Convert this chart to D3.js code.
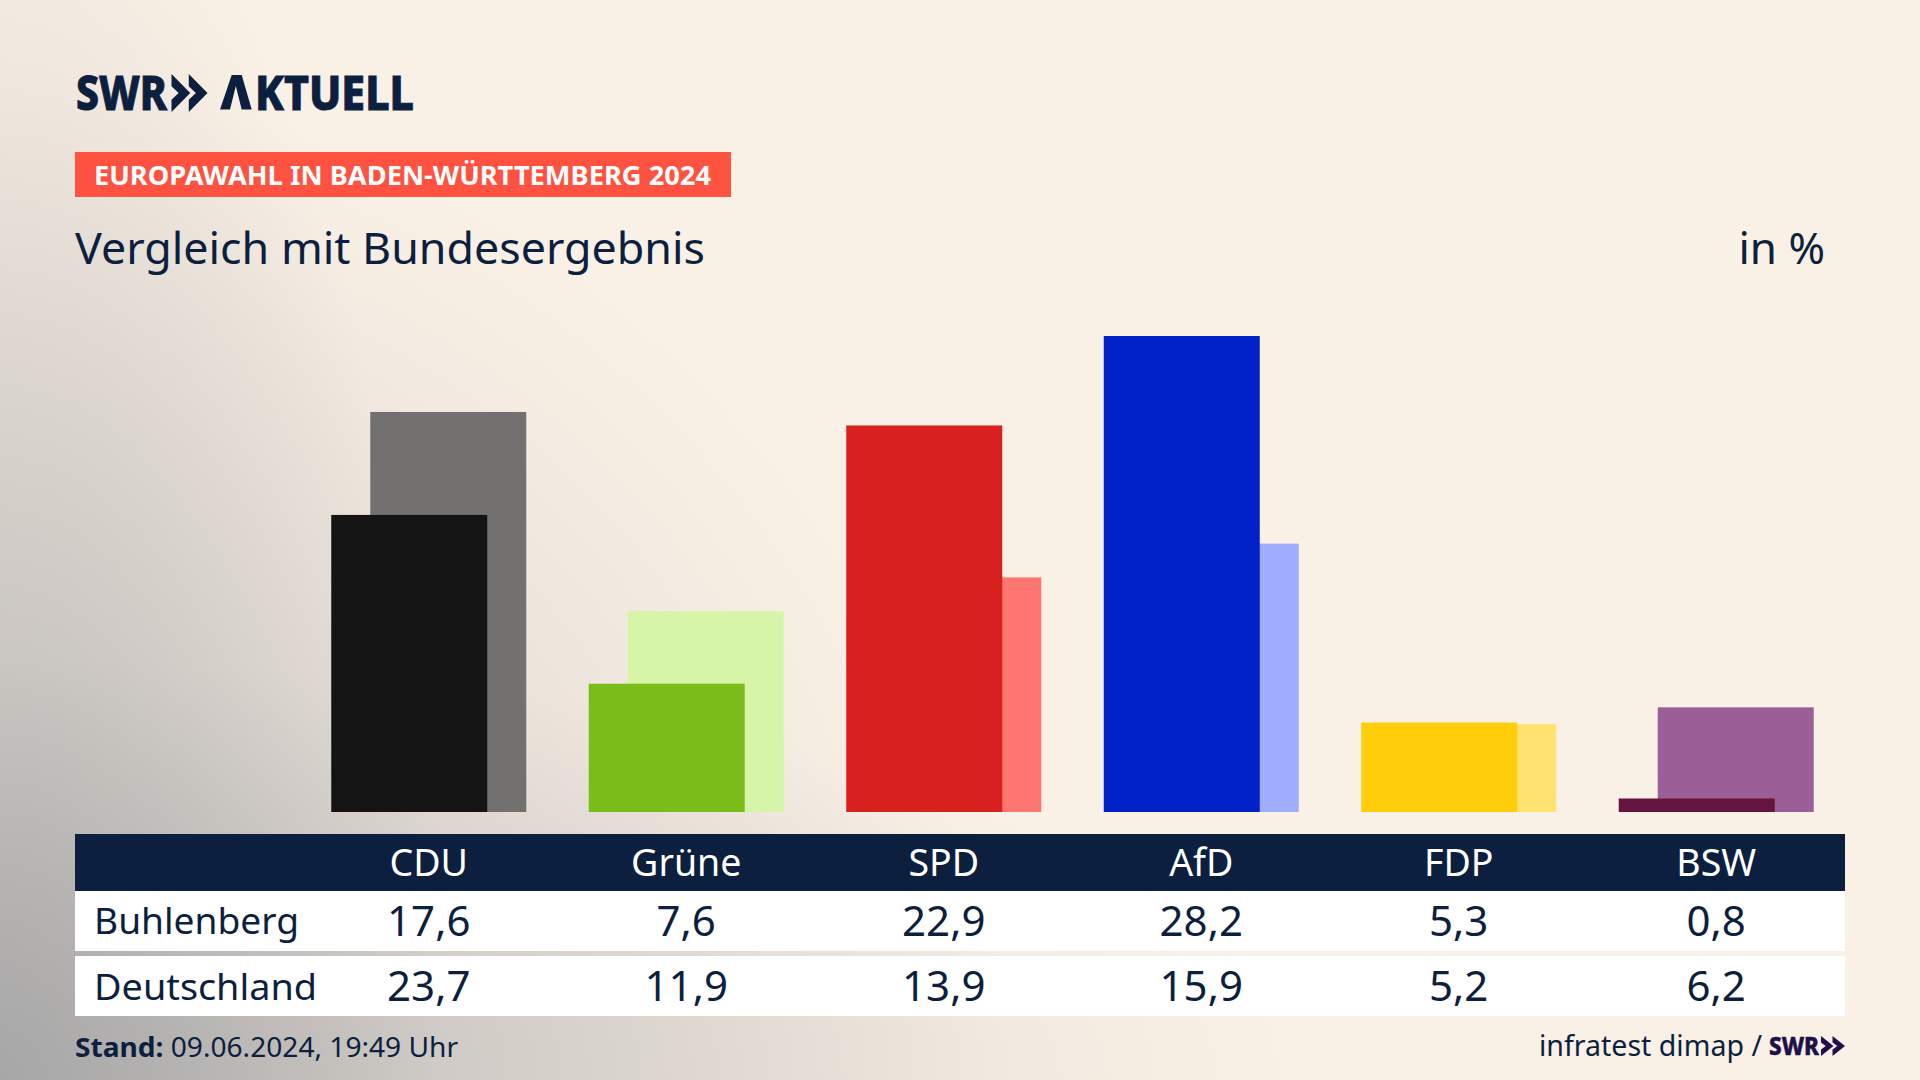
<!DOCTYPE html>
<html>
<head>
<meta charset="utf-8">
<script src="https://cdn.jsdelivr.net/npm/d3@7"></script>
<style>
  html, body { margin: 0; padding: 0; background: #faf1e6; }
  svg { display: block; }
  text { font-family: "Noto Sans", sans-serif; fill: #0c1f3f; }
</style>
</head>
<body>
<svg id="chart" width="1920" height="1080"></svg>
<script>
'use strict';

// data
var parties = ['CDU', 'Grüne', 'SPD', 'AfD', 'FDP', 'BSW'];
var buhlenberg = [17.6, 7.6, 22.9, 28.2, 5.3, 0.8];
var deutschland = [23.7, 11.9, 13.9, 15.9, 5.2, 6.2];
var mainColors = ['#141414', '#7abd1a', '#d8201f', '#0021c8', '#ffcd0b', '#64143f'];
var lightColors = ['#73716f', '#d7f5a8', '#ff7670', '#9fadff', '#ffe26f', '#9b5e96'];
var rowNames = ['Buhlenberg', 'Deutschland'];

var navy = '#0c1f3f';
var svg = d3.select('#chart');

// background: cream with a grey glow from the lower left corner, three layers
var defs = svg.append('defs');
svg.append('rect').attr('width', 1920).attr('height', 1080).attr('fill', '#faf1e6');
[[1300, 420, 0.35], [440, 1300, 0.42], [1000, 1000, 0.38]].forEach(function(g, i) {
  var grad = defs.append('radialGradient')
    .attr('id', 'glow' + i)
    .attr('gradientUnits', 'userSpaceOnUse')
    .attr('cx', 0).attr('cy', 0).attr('r', 1)
    .attr('gradientTransform', 'translate(0,1080) scale(' + g[0] + ',' + g[1] + ')');
  grad.append('stop').attr('offset', 0).attr('stop-color', '#8e9094').attr('stop-opacity', g[2]);
  grad.append('stop').attr('offset', 1).attr('stop-color', '#8e9094').attr('stop-opacity', 0);
  svg.append('rect').attr('width', 1920).attr('height', 1080).attr('fill', 'url(#glow' + i + ')');
});

// scales
var x = d3.scaleBand().domain(parties).range([300, 1845]);
var y = d3.scaleLinear().domain([0, 28.2]).range([812, 336]);

var barWidth = 156, barShift = 39;
var center = function(p) { return x(p) + x.bandwidth() / 2; };

// light bars (Deutschland) behind the dark ones (Buhlenberg)
svg.append('g').selectAll('rect')
  .data(parties)
  .join('rect')
  .attr('x', function(p) { return center(p) - barWidth / 2 + barShift / 2; })
  .attr('y', function(p, i) { return y(deutschland[i]); })
  .attr('width', barWidth)
  .attr('height', function(p, i) { return y(0) - y(deutschland[i]); })
  .attr('fill', function(p, i) { return lightColors[i]; });

svg.append('g').selectAll('rect')
  .data(parties)
  .join('rect')
  .attr('x', function(p) { return center(p) - barWidth / 2 - barShift / 2; })
  .attr('y', function(p, i) { return y(buhlenberg[i]); })
  .attr('width', barWidth)
  .attr('height', function(p, i) { return y(0) - y(buhlenberg[i]); })
  .attr('fill', function(p, i) { return mainColors[i]; });

function label(txt, px, py, size, opts) {
  opts = opts || {};
  var t = svg.append('text')
    .attr('x', px).attr('y', py)
    .attr('font-size', size)
    .attr('text-anchor', opts.anchor || 'start')
    .attr('font-weight', opts.weight || 400)
    .text(txt);
  if (opts.fill) t.style('fill', opts.fill);
  if (opts.stroke) t.style('stroke', opts.fill || navy).style('stroke-width', opts.stroke);
  if (opts.len) t.attr('textLength', opts.len).attr('lengthAdjust', 'spacingAndGlyphs');
  return t;
}

// two arrowheads, left side cut straight
function chevrons(px, py, w, h, fill) {
  var cw = w * 0.52, step = w - cw, g = svg.append('g').attr('fill', fill);
  [0, step].forEach(function(dx) {
    var p = d3.path(), x0 = px + dx;
    p.moveTo(x0, py);
    p.lineTo(x0 + cw, py + h / 2);
    p.lineTo(x0, py + h);
    p.lineTo(x0, py + h * 0.68);
    p.lineTo(x0 + cw * 0.38, py + h / 2);
    p.lineTo(x0, py + h * 0.32);
    p.closePath();
    g.append('path').attr('d', p.toString());
  });
}

// logo
label('SWR', 76, 109.5, 48, { weight: 800, len: 91, stroke: 1 });
chevrons(171.5, 74, 36, 38, navy);
var logo = label('', 219, 109.5, 48, { weight: 800, stroke: 1 });
logo.append('tspan').style('fill', 'none').style('stroke', 'none').text('A');
logo.append('tspan').attr('x', 255).attr('textLength', 159).attr('lengthAdjust', 'spacingAndGlyphs').text('KTUELL');

// band and titles
svg.append('rect').attr('x', 75).attr('y', 152).attr('width', 656).attr('height', 45).attr('fill', '#ff5240');
label('EUROPAWAHL IN BADEN-WÜRTTEMBERG 2024', 94, 185, 27, { weight: 700, fill: '#fff', len: 617 });
label('Vergleich mit Bundesergebnis', 75, 264, 44, { len: 630 });
label('in %', 1825, 264, 44, { anchor: 'end' });

// table
svg.append('rect').attr('x', 75).attr('y', 834).attr('width', 1770).attr('height', 57).attr('fill', navy);
svg.append('rect').attr('x', 75).attr('y', 891).attr('width', 1770).attr('height', 60).attr('fill', '#fff');
svg.append('rect').attr('x', 75).attr('y', 956).attr('width', 1770).attr('height', 60).attr('fill', '#fff');

var fmt = function(v) { return v.toFixed(1).replace('.', ','); };
parties.forEach(function(p, i) {
  label(p, center(p), 875.5, 37.5, { anchor: 'middle', fill: '#fff' });
  label(fmt(buhlenberg[i]), center(p), 936, 42, { anchor: 'middle' });
  label(fmt(deutschland[i]), center(p), 1001, 42, { anchor: 'middle' });
});
label(rowNames[0], 94, 934, 37, { len: 205 });
label(rowNames[1], 94, 1000, 37, { len: 223 });

// footer
var stand = label('', 75, 1057, 27, { len: 383 });
stand.append('tspan').attr('font-weight', 700).text('Stand:');
stand.append('tspan').text(' 09.06.2024, 19:49 Uhr');
label('infratest dimap /', 1539, 1056, 29, { len: 223 });
label('SWR', 1769, 1055, 25, { weight: 800, fill: '#20104a', len: 50, stroke: 0.5 });
chevrons(1821, 1036, 24, 20, '#20104a');

// the crossbar-less A of the logo
var a = d3.path();
a.moveTo(220, 109.5);
a.lineTo(231.7, 75);
a.lineTo(241.7, 75);
a.lineTo(251.7, 109.5);
a.lineTo(241.7, 109.5);
a.lineTo(235.8, 86);
a.lineTo(230, 109.5);
a.closePath();
svg.append('path').attr('d', a.toString()).attr('fill', navy);
</script>
</body>
</html>
